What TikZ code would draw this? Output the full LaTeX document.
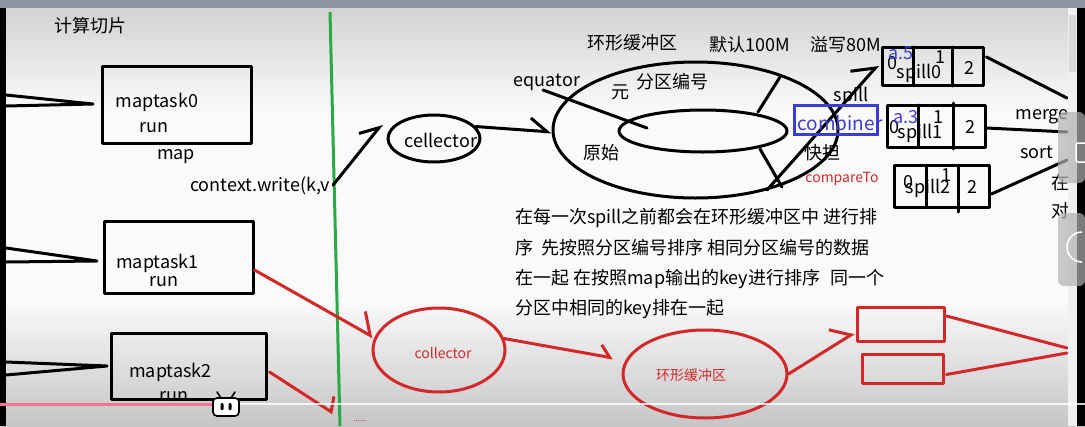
\documentclass[tikz,border=0pt]{standalone}
\usepackage{fontspec}
\setmainfont{Noto Sans CJK SC}
\usetikzlibrary{arrows.meta,shapes.geometric,calc}
\definecolor{rd}{RGB}{212,40,40}
\definecolor{bl}{RGB}{60,60,210}
\definecolor{gn}{RGB}{40,170,70}
\definecolor{pinkbar}{RGB}{251,114,153}
\definecolor{topband}{RGB}{140,150,165}
\definecolor{paper}{RGB}{250,250,250}
\begin{document}
\begin{tikzpicture}[x=1pt,y=-1pt,
  ink/.style={line width=3pt, line cap=round, line join=round},
  lbl/.style={inner sep=0pt, font=\fontsize{18}{20}\selectfont},
  small/.style={inner sep=0pt, font=\fontsize{14}{16}\selectfont},
  box/.style={draw, ink, rectangle, inner sep=0pt},
  oval/.style={draw, ink, ellipse, inner sep=0pt},
  hb/.style 2 args={-{Straight Barb[harpoon,length=#1,width=#2]}},
]
% ---------- background ----------
\useasboundingbox (0,0) rectangle (1085,426);
\fill[paper] (0,0) rectangle (1085,426);
\shade[top color=gray!35, bottom color=paper] (0,8) rectangle (1085,110);
\shade[top color=paper, bottom color=gray!45] (0,300) rectangle (1085,426);
\fill[topband] (0,0) rectangle (1085,8);

% ---------- left column ----------
\node[lbl] (title) at (90,26) {计算切片};

\node[box, minimum width=149, minimum height=77] (mt0) at (176.5,104.5) {};
\node[lbl] (mt0a) at (157,102) {maptask0};
\node[lbl] (mt0b) at (154,128) {run};
\node[lbl] (map) at (176,157) {map};
\node[lbl, anchor=west] (ctx) at (190,186) {context.write(k,v};

\node[box, minimum width=149, minimum height=72] (mt1) at (178.5,257) {};
\node[lbl] (mt1a) at (157.5,263) {maptask1};
\node[lbl] (mt1b) at (164,282) {run};

\node[box, minimum width=155, minimum height=66] (mt2) at (188.5,366) {};
\node[lbl] (mt2a) at (170.5,372) {maptask2};
\node[lbl] (mt2b) at (174,397) {run};

\coordinate (l0a) at (6,95);   \coordinate (l0b) at (6,106);  \coordinate (t0) at (93,104);
\coordinate (l1a) at (6,248);  \coordinate (l1b) at (6,262);  \coordinate (t1) at (97,261);
\coordinate (l2a) at (6,362);  \coordinate (l2b) at (6,375);  \coordinate (t2) at (107,366);
\draw[ink] (l0a) -- (t0) -- (l0b);
\draw[ink] (l1a) -- (t1) -- (l1b);
\draw[ink] (l2a) -- (t2) -- (l2b);

\fill[black] (0,8) rectangle (6,426);

% green separator
\draw[gn, line width=3pt] (330,12) -- (340,426);

% ---------- ring buffer (black) ----------
\node[oval, minimum width=92, minimum height=47] (cel) at (434,138.5) {};
\node[lbl] (cell) at (441,140) {cellector};
\coordinate (celin) at (382,124);
\draw[ink, hb={17}{24}] ($(ctx.east)+(3,-1)$) -- (celin);

\node[oval, minimum width=285, minimum height=136] (ring) at (695.5,130) {};
\node[oval, minimum width=168, minimum height=42] (inner) at (703,131) {};
\draw[ink, hb={17}{25}] (cel.16) -- ($(ring.west)+(0,2)$);

\draw[ink] (758,112) -- (780,77);
\draw[ink] (760,149) -- (782,187);

\node[lbl] (eq) at (547,82) {equator};
\draw[ink] (543,90) -- (647,128);
\node[lbl] (yuan) at (620,92) {元};
\node[lbl] (fq) at (672,82) {分区编号};
\node[lbl] (ys) at (601,153) {原始};

\node[lbl] (rb) at (632,43) {环形缓冲区};
\node[lbl] (df) at (750,45) {默认100M};
\node[lbl] (yx) at (846,45) {溢写80M};

% ---------- spill boxes ----------
\node[box, minimum width=101, minimum height=38] (s0) at (932.5,66) {};
\draw[ink] (913,47) -- (913,85);
\draw[ink] (952,47) -- (952,86);
\node[lbl] at (892,63) {0};
\node[lbl] at (940,57) {1};
\node[lbl] at (969,68) {2};
\node[lbl] (sp0) at (919,73) {spill0};
\node[lbl, text=bl] at (901,53) {a.5};

\node[box, minimum width=98, minimum height=42] (s1) at (936,126) {};
\draw[ink] (918,105) -- (918,147);
\draw[ink] (953,103) -- (953,149);
\node[lbl] at (894,127) {0};
\node[lbl] at (938,117) {1};
\node[lbl] at (970,127) {2};
\node[lbl] (sp1) at (920,133) {spill1};
\node[lbl, text=bl] at (906,117) {a.3};

\node[box, minimum width=95, minimum height=42] (s2) at (941.5,186) {};
\draw[ink] (926,165) -- (926,207);
\draw[ink] (958,165) -- (958,212);
\node[lbl] at (908,182) {0};
\node[lbl] at (946,175) {1};
\node[lbl] at (972,187) {2};
\node[lbl] (sp2) at (928,188) {spill2};

\coordinate (spfrom) at (767,190);
\coordinate (spto) at (878,65);
\draw[ink, hb={19}{33}] (spfrom) -- (spto);
\node[lbl] (spl) at (851,96) {spill};
\node[draw=bl, line width=3pt, minimum width=83, minimum height=29, inner sep=0pt] (comb) at (835.5,119.5) {};
\node[lbl, text=bl, font=\fontsize{19}{20}\selectfont] (combt) at (840,123) {combiner};
\node[lbl] (kp) at (822,153) {快担};
\node[small, text=rd] (cmp) at (842,179) {compareTo};

\coordinate (r0) at (1067,98);
\coordinate (r1) at (1067,132);
\coordinate (r2) at (1067,160);
\draw[ink] ($(s0.east)+(2,-9)$) -- (r0);
\draw[ink] ($(s1.east)+(0,2)$) -- (r1);
\draw[ink] ($(s2.east)+(1,8)$) -- (r2);
\node[lbl] (merge) at (1042,117) {merge};
\node[lbl] (sort) at (1037,152) {sort};
\node[lbl] (zai) at (1060,183) {在};
\node[lbl] (dui) at (1060,211) {对};

% ---------- explanation ----------
\node[lbl, anchor=west] (p1) at (515,218) {在每一次spill之前都会在环形缓冲区中 进行排};
\node[lbl, anchor=west] (p2) at (515,248) {序\hspace{8pt}先按照分区编号排序 相同分区编号的数据};
\node[lbl, anchor=west] (p3) at (515,279) {在一起 在按照map输出的key进行排序\hspace{10pt}同一个};
\node[lbl, anchor=west] (p4) at (515,309) {分区中相同的key排在一起};

% ---------- red part ----------
\begin{scope}[rd]
\node[oval, draw=rd, minimum width=132, minimum height=84] (coll) at (439,350) {};
\node[small, text=rd] (collt) at (443,353) {collector};
\node[oval, draw=rd, minimum width=164, minimum height=88] (rr) at (705,374) {};
\node[small, text=rd] (rrt) at (691,375) {环形缓冲区};
\node[box, draw=rd, minimum width=87, minimum height=34] (q1) at (900.5,324) {};
\node[box, draw=rd, minimum width=81, minimum height=29] (q2) at (902.5,368.5) {};
\coordinate (collin) at (373,337);
\coordinate (rrin) at (613,358);
\coordinate (q1in) at (854,333);
\coordinate (m2end) at (333,413);
\coordinate (rq1) at (1067,348);
\coordinate (rq2) at (1067,353);
\draw[ink, rd, hb={16}{37}] ($(mt1.east)+(0,13)$) -- (collin);
\draw[ink, rd, hb={10}{22}] (coll.10) -- (rrin);
\draw[ink, rd, hb={16}{32}] (rr.east) -- (q1in);
\draw[ink, rd, hb={6}{29}] ($(mt2.east)+(2,6)$) -- (m2end);
\draw[ink, rd] ($(q1.east)+(1,-8)$) -- (rq1);
\draw[ink, rd] ($(q2.east)+(2,6)$) -- (rq2);
\node[inner sep=0pt, text=rd, font=\fontsize{8}{8}\selectfont] (dots) at (360,421) {......};
\end{scope}

% ---------- player chrome ----------
\fill[gray!12] (1068,8) rectangle (1077,426);
\fill[gray!30] (1069,15) rectangle (1076,72);
\fill[black] (1077,8) rectangle (1085,426);
\fill[gray!60, opacity=0.7, rounded corners=6] (1058,112) rectangle (1085,183);
\fill[gray!60, opacity=0.7, rounded corners=6] (1058,213) rectangle (1085,286);
\draw[white, line width=1.5pt, rounded corners=2] (1085,143) -- (1076,143) -- (1076,162) -- (1085,162);
\draw[white, line width=1.5pt] (1082,232) arc[start angle=90, end angle=270, radius=15pt];
\draw[white, opacity=0.8, line width=2pt] (240,404) -- (1085,404);
\draw[pinkbar, line width=3pt] (0,404) -- (215,404);
\draw[black, line width=1.6pt, line cap=round] (221,398) -- (217,392);
\draw[black, line width=1.6pt, line cap=round] (231,398) -- (235,392);
\node[draw=black, fill=white, line width=1.6pt, rounded corners=4, minimum width=26, minimum height=18, inner sep=0pt] (tv) at (226,407) {};
\fill[black, rounded corners=1] (220.5,403) rectangle (223.5,410);
\fill[black, rounded corners=1] (228.5,403) rectangle (231.5,410);
\end{tikzpicture}
\end{document}
